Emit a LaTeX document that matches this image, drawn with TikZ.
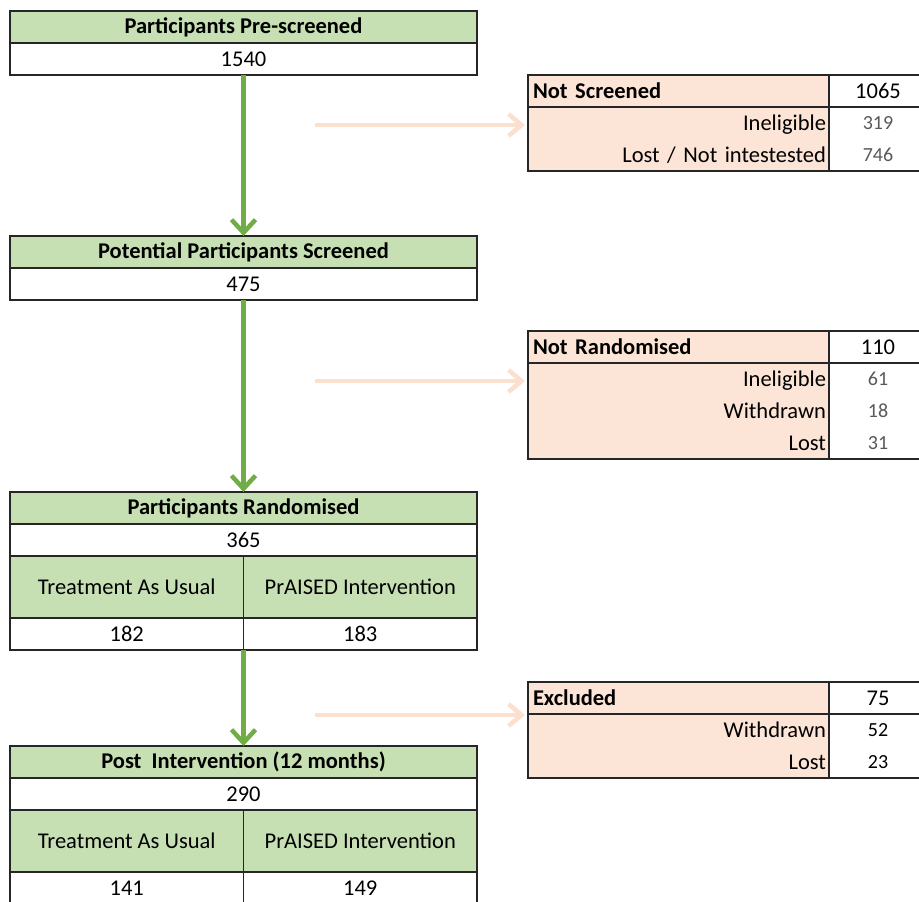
\documentclass[tikz,border=0pt]{standalone}
\usepackage{fontspec}
\setmainfont{Carlito}
\usetikzlibrary{arrows.meta, positioning}
\definecolor{hdrgreen}{HTML}{C6E0B4}
\definecolor{exclpink}{HTML}{FCE4D6}
\definecolor{flowgreen}{HTML}{70AD47}
\definecolor{flowpink}{HTML}{FBE0CF}

\begin{document}
\begin{tikzpicture}[
    x=1pt, y=-1pt,
    cell/.style={rectangle, draw=black!85, line width=1.3pt, outer sep=0pt, inner sep=0pt, font=\fontsize{22.5}{32}\selectfont},
    hdr/.style={cell, fill=hdrgreen, font=\fontsize{22.5}{32}\selectfont\bfseries, minimum width=467pt, minimum height=32pt},
    val/.style={cell, fill=white, minimum width=467pt, minimum height=32pt},
    arm/.style={cell, fill=hdrgreen, minimum width=233.5pt, minimum height=62pt},
    armval/.style={cell, fill=white, minimum width=233.5pt, minimum height=32pt},
    exhdr/.style={cell, fill=exclpink, font=\fontsize{22.5}{32}\selectfont\bfseries, inner xsep=5pt, text width=291pt, align=left, minimum height=32pt},
    exnum/.style={cell, fill=white, minimum width=98pt, minimum height=32pt},
    exrows/.style={cell, fill=exclpink, inner xsep=3pt, text width=295pt, align=right},
    exrownum/.style={cell, fill=white, text width=98pt, align=center, text=black!65, font=\fontsize{20}{32}\selectfont},
    down/.style={-{Straight Barb[length=13pt, width=24pt]}, line width=4.5pt, flowgreen},
    side/.style={-{Straight Barb[length=13pt, width=22pt]}, line width=4.5pt, flowpink, shorten >=3pt}
]
    \clip (0,0) rectangle (919,902);

    % Vorauswahl
    \node[hdr, anchor=north west] (pre) at (10,11) {Participants Pre-screened};
    \node[val, below=0pt of pre] (preN) {1540};

    % Screening
    \node[hdr, anchor=north west] (scr) at (10,236) {Potential Participants Screened};
    \node[val, below=0pt of scr] (scrN) {475};

    % Randomisierung
    \node[hdr, anchor=north west] (rand) at (10,492) {Participants Randomised};
    \node[val, below=0pt of rand] (randN) {365};
    \node[arm, anchor=north west] (randTAU) at (randN.south west) {Treatment As Usual};
    \node[arm, anchor=north west] (randPr) at (randTAU.north east) {PrAISED Intervention};
    \node[armval, below=0pt of randTAU] (randTAUn) {182};
    \node[armval, below=0pt of randPr] (randPrn) {183};

    % nach der Intervention
    \node[hdr, anchor=north west] (post) at (10,746) {Post~ Intervention (12 months)};
    \node[val, below=0pt of post] (postN) {290};
    \node[arm, anchor=north west] (postTAU) at (postN.south west) {Treatment As Usual};
    \node[arm, anchor=north west] (postPr) at (postTAU.north east) {PrAISED Intervention};
    \node[armval, below=0pt of postTAU] (postTAUn) {141};
    \node[armval, below=0pt of postPr] (postPrn) {149};

    % Ausschluesse
    \node[exhdr, anchor=north west] (ns) at (528,75) {Not Screened};
    \node[exnum, anchor=north west] (nsN) at (ns.north east) {1065};
    \node[exrows, minimum height=64pt, anchor=north west] (nsR) at (ns.south west) {Ineligible\\Lost / Not intestested};
    \node[exrownum, minimum height=64pt, anchor=north west] (nsRN) at (nsR.north east) {319\\746};

    \node[exhdr, anchor=north west] (nr) at (528,331) {Not Randomised};
    \node[exnum, anchor=north west] (nrN) at (nr.north east) {110};
    \node[exrows, minimum height=96pt, anchor=north west] (nrR) at (nr.south west) {Ineligible\\Withdrawn\\Lost};
    \node[exrownum, minimum height=96pt, anchor=north west] (nrRN) at (nrR.north east) {61\\18\\31};

    \node[exhdr, anchor=north west] (ex) at (528,682) {Excluded};
    \node[exnum, anchor=north west] (exN) at (ex.north east) {75};
    \node[exrows, minimum height=64pt, anchor=north west] (exR) at (ex.south west) {Withdrawn\\Lost};
    \node[exrownum, minimum height=64pt, anchor=north west, text=black] (exRN) at (exR.north east) {52\\23};

    % Pfeile
    \draw[down] (preN.south) -- (scr.north);
    \draw[down] (scrN.south) -- (rand.north);
    \draw[down] (randTAUn.south east) -- (post.north);

    \coordinate (nsFrom) at (315,125);
    \coordinate (nrFrom) at (315,381);
    \coordinate (exFrom) at (315,715);
    \draw[side] (nsFrom) -- (nsFrom -| ns.west);
    \draw[side] (nrFrom) -- (nrFrom -| nr.west);
    \draw[side] (exFrom) -- (exFrom -| ex.west);
\end{tikzpicture}
\end{document}
